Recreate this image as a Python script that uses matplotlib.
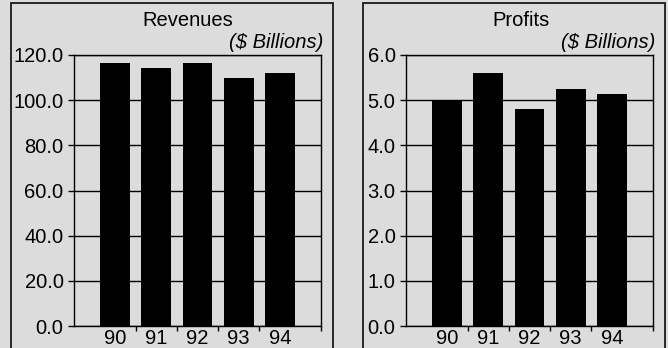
import matplotlib
matplotlib.use("Agg")
import matplotlib.pyplot as plt
from matplotlib.patches import Rectangle

plt.rcParams['font.family'] = ['Liberation Sans', 'DejaVu Sans']

years = ["90", "91", "92", "93", "94"]
revenues = [116.3, 114.4, 116.3, 109.9, 112.2]
profits = [5.00, 5.61, 4.80, 5.25, 5.14]

rev_ticks = [0, 20, 40, 60, 80, 100, 120]
prof_ticks = [0, 1, 2, 3, 4, 5, 6]

BG = '#dcdcdd'
W, H = 668, 348
FS = 14.5

fig = plt.figure(figsize=(W / 100, H / 100), dpi=100, facecolor=BG)


def px_rect(x0, y0, x1, y1):
    """Convert pixel box (top-left origin) to figure fraction [l, b, w, h]."""
    return [x0 / W, 1 - y1 / H, (x1 - x0) / W, (y1 - y0) / H]


def panel(box, axbox, values, ticks, title, title_x):
    # frame around the panel
    bx0, by0, bx1 = box
    fig.patches.append(Rectangle((bx0 / W, -0.1), (bx1 - bx0) / W, 1 - by0 / H + 0.1,
                                 transform=fig.transFigure, fill=False,
                                 edgecolor='#1a1a1a', linewidth=1.3, clip_on=False))
    ax = fig.add_axes(px_rect(*axbox))
    ax.set_facecolor(BG)
    x = list(range(len(values)))
    ax.bar(x, values, width=0.726, color='black', zorder=3)
    ax.set_xlim(-1, len(values))
    ax.set_ylim(ticks[0], ticks[-1])
    ax.set_yticks(ticks)
    ax.set_yticklabels([f"{t:.1f}" for t in ticks])
    ax.yaxis.grid(True, color='black', linewidth=1.0, zorder=1)
    ax.set_axisbelow(True)
    ax.set_xticks(x)
    ax.set_xticklabels(years)
    ax.set_xticks([i + 0.5 for i in range(len(values) - 1)] + [len(values)], minor=True)
    ax.tick_params(axis='x', which='major', length=0, pad=2, labelsize=FS)
    ax.tick_params(axis='x', which='minor', length=3.5, width=1, direction='out')
    ax.tick_params(axis='y', length=4.5, width=1, pad=3, labelsize=FS, direction='out')
    for s in ax.spines.values():
        s.set_linewidth(1.0)
        s.set_color('black')
    fig.text(title_x / W, 1 - 20 / H, title, ha='center', va='center', fontsize=FS)
    fig.text((axbox[2] + 2) / W, 1 - 42 / H, "($ Billions)", ha='right', va='center',
             fontsize=FS, style='italic')
    return ax


panel((11, 3, 333), (74, 55, 321, 326), revenues, rev_ticks, "Revenues", 187.5)
panel((363, 3, 665), (406, 55, 653, 326), profits, prof_ticks, "Profits", 521.5)

fig.savefig("out.png", dpi=100, facecolor=BG)
